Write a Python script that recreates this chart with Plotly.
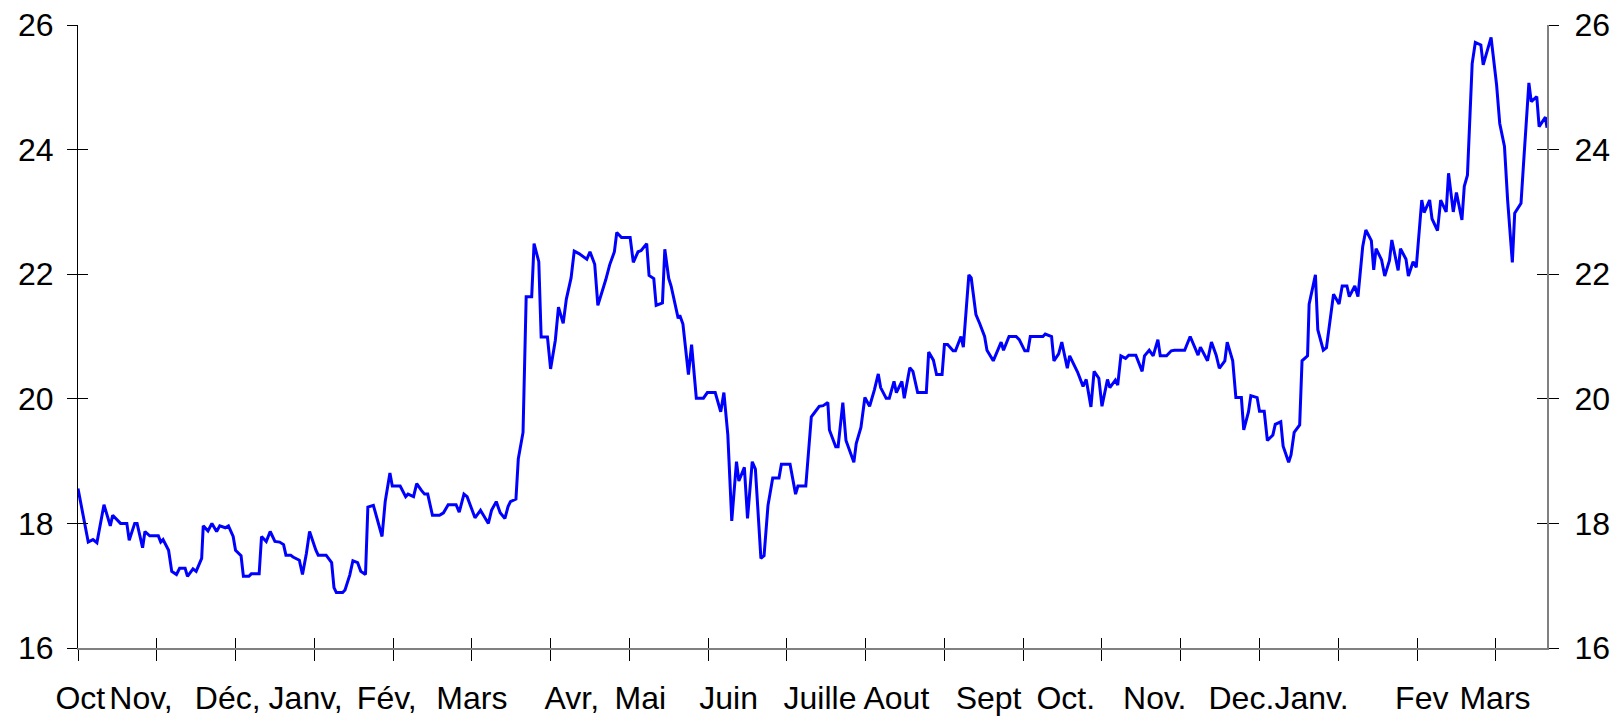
import plotly.graph_objects as go

# month index (0 = first October tick) and value of each vertex
seg1_t = [0.00, 0.13, 0.19, 0.24, 0.33, 0.41, 0.44, 0.54, 0.62, 0.65,
          0.72, 0.75, 0.82, 0.85, 0.91, 1.02, 1.05, 1.08, 1.15, 1.19,
          1.25, 1.29, 1.36, 1.39, 1.46, 1.50, 1.57, 1.59, 1.65, 1.70,
          1.76, 1.80, 1.87, 1.91, 1.97, 2.00, 2.07, 2.10, 2.17, 2.20,
          2.30, 2.33, 2.39, 2.44, 2.50, 2.56, 2.61, 2.64, 2.70, 2.73,
          2.81, 2.85, 2.90, 2.94, 3.02, 3.05, 3.15, 3.22, 3.25, 3.28,
          3.36, 3.39, 3.45, 3.49, 3.55, 3.59, 3.65, 3.68, 3.75, 3.80,
          3.86, 3.90, 3.96, 3.99, 4.09, 4.16, 4.19, 4.26, 4.30, 4.36,
          4.40, 4.44, 4.50, 4.59, 4.64, 4.70, 4.80, 4.84, 4.90, 4.94,
          5.01, 5.04, 5.11]
seg1_v = [18.56, 17.70, 17.74, 17.69, 18.30, 17.96, 18.13, 18.00, 18.00, 17.73,
          18.00, 18.00, 17.61, 17.87, 17.80, 17.80, 17.70, 17.74, 17.57, 17.23,
          17.18, 17.28, 17.28, 17.15, 17.27, 17.23, 17.44, 17.96, 17.88, 18.00,
          17.87, 17.96, 17.93, 17.96, 17.79, 17.57, 17.48, 17.15, 17.15, 17.19,
          17.19, 17.79, 17.71, 17.87, 17.71, 17.70, 17.66, 17.49, 17.49, 17.46,
          17.41, 17.18, 17.52, 17.87, 17.57, 17.49, 17.49, 17.37, 16.97, 16.89,
          16.89, 16.93, 17.17, 17.40, 17.37, 17.23, 17.18, 18.26, 18.29, 18.05,
          17.79, 18.35, 18.81, 18.60, 18.60, 18.43, 18.47, 18.43, 18.64, 18.53,
          18.47, 18.47, 18.13, 18.13, 18.17, 18.30, 18.30, 18.18, 18.47, 18.43,
          18.17, 18.09, 18.21]

seg2_t = [5.21, 5.25, 5.31, 5.36, 5.42, 5.46, 5.49, 5.56, 5.59, 5.65,
          5.69, 5.76, 5.79, 5.85, 5.88, 5.96, 6.00, 6.06, 6.10, 6.16,
          6.20, 6.26, 6.30, 6.36, 6.46, 6.50, 6.56, 6.60, 6.65, 6.70,
          6.75, 6.81, 6.84, 6.90, 7.01, 7.05, 7.11, 7.15, 7.22, 7.25,
          7.31, 7.34, 7.42, 7.45, 7.50, 7.53, 7.62, 7.64, 7.68, 7.75,
          7.79, 7.85, 7.94, 7.99, 8.09, 8.16, 8.20, 8.25, 8.30, 8.36,
          8.39, 8.46, 8.50, 8.56, 8.60, 8.67, 8.71, 8.76, 8.82, 8.90,
          8.93, 9.04, 9.11, 9.14, 9.24, 9.31, 9.34, 9.41, 9.46, 9.52,
          9.54, 9.62, 9.65, 9.71, 9.75, 9.85, 9.88, 9.94, 9.99, 10.05,
          10.11, 10.16]
seg2_v = [18.00, 18.21, 18.35, 18.17, 18.08, 18.27, 18.35, 18.39, 19.04, 19.46,
          21.64, 21.64, 22.49, 22.20, 20.99, 20.99, 20.48, 20.94, 21.47, 21.21,
          21.60, 21.94, 22.37, 22.33, 22.24, 22.36, 22.16, 21.50, 21.69, 21.91,
          22.15, 22.36, 22.67, 22.59, 22.59, 22.19, 22.36, 22.38, 22.49, 21.98,
          21.93, 21.50, 21.54, 22.40, 21.93, 21.81, 21.29, 21.34, 21.20, 20.39,
          20.87, 20.01, 20.01, 20.10, 20.10, 19.79, 20.10, 19.42, 18.04, 18.99,
          18.68, 18.90, 18.08, 18.99, 18.87, 17.44, 17.48, 18.29, 18.73, 18.73,
          18.95, 18.95, 18.47, 18.60, 18.60, 19.71, 19.76, 19.88, 19.89, 19.94,
          19.50, 19.23, 19.23, 19.94, 19.33, 18.98, 19.28, 19.54, 20.02, 19.88,
          20.14, 20.40]

seg3_t = [10.19, 10.26, 10.30, 10.36, 10.39, 10.46, 10.49, 10.56, 10.60, 10.66,
          10.77, 10.80, 10.86, 10.90, 10.97, 11.00, 11.04, 11.11, 11.14, 11.21,
          11.24, 11.31, 11.34, 11.40, 11.45, 11.51, 11.54, 11.62, 11.72, 11.75,
          11.82, 11.91, 11.95, 12.02, 12.06, 12.09, 12.25, 12.28, 12.36, 12.39,
          12.45, 12.49, 12.56, 12.59, 12.69, 12.76, 12.80, 12.86, 12.90, 12.96,
          13.00, 13.07, 13.10, 13.17, 13.20, 13.24, 13.30, 13.34, 13.43, 13.51,
          13.54, 13.60, 13.65, 13.71, 13.74, 13.82, 13.88, 13.92, 14.05, 14.12,
          14.22]
seg3_v = [20.18, 20.01, 20.01, 20.28, 20.10, 20.28, 20.01, 20.50, 20.44, 20.10,
          20.10, 20.75, 20.62, 20.39, 20.39, 20.87, 20.87, 20.77, 20.77, 21.00,
          20.83, 21.99, 21.94, 21.35, 21.20, 21.00, 20.78, 20.61, 20.91, 20.78,
          21.00, 21.00, 20.95, 20.77, 20.77, 21.00, 21.00, 21.04, 21.00, 20.61,
          20.72, 20.91, 20.49, 20.69, 20.43, 20.20, 20.31, 19.87, 20.44, 20.33,
          19.88, 20.31, 20.18, 20.30, 20.22, 20.69, 20.65, 20.70, 20.70, 20.44,
          20.69, 20.78, 20.69, 20.95, 20.69, 20.69, 20.77, 20.78, 20.78, 21.00,
          20.70]

seg4_t = [14.25, 14.34, 14.39, 14.45, 14.49, 14.56, 14.59, 14.66, 14.70, 14.77,
          14.80, 14.86, 14.89, 14.97, 15.00, 15.06, 15.10, 15.17, 15.20, 15.27,
          15.30, 15.37, 15.40, 15.44, 15.51, 15.54, 15.61, 15.63, 15.71, 15.74,
          15.81, 15.85, 15.94, 16.01, 16.05, 16.11, 16.14, 16.21, 16.25, 16.31,
          16.35, 16.42, 16.45, 16.48, 16.55, 16.59, 16.65, 16.68, 16.76, 16.79,
          16.86, 16.89, 16.95, 16.99, 17.06, 17.09, 17.16, 17.19, 17.26, 17.30,
          17.37, 17.40, 17.46, 17.50, 17.57, 17.60, 17.64, 17.70, 17.74, 17.81,
          17.84, 17.94, 18.01, 18.05, 18.11, 18.15, 18.21, 18.24, 18.32, 18.35,
          18.42, 18.45, 18.52, 18.55, 18.63, 18.65]
seg4_v = [20.83, 20.61, 20.91, 20.70, 20.49, 20.61, 20.91, 20.61, 20.02, 20.02,
          19.50, 19.79, 20.05, 20.02, 19.80, 19.80, 19.33, 19.42, 19.59, 19.63,
          19.24, 18.98, 19.10, 19.46, 19.58, 20.61, 20.69, 21.52, 21.99, 21.11,
          20.78, 20.82, 21.68, 21.52, 21.81, 21.81, 21.64, 21.81, 21.64, 22.44,
          22.71, 22.54, 22.07, 22.41, 22.23, 21.97, 22.22, 22.55, 22.06, 22.41,
          22.24, 21.97, 22.20, 22.11, 23.19, 22.99, 23.19, 22.89, 22.70, 23.19,
          23.00, 23.62, 23.00, 23.31, 22.87, 23.41, 23.59, 25.38, 25.72, 25.68,
          25.36, 25.80, 25.04, 24.42, 24.05, 23.19, 22.19, 22.98, 23.14, 23.73,
          25.07, 24.77, 24.85, 24.37, 24.52, 24.35]

month_ticks = list(range(19))
month_labels = ["Oct", "Nov,", "Déc,", "Janv,", "Fév,", "Mars", "Avr,", "Mai", "Juin",
                "Juille", "Aout", "Sept", "Oct.", "Nov.", "Dec.", "Janv.", "Fev", "Mars"]
label_pos = [0.03, 0.80, 1.90, 2.89, 3.92, 5.00, 6.27, 7.14, 8.26,
             9.42, 10.39, 11.56, 12.54, 13.67, 14.77, 15.66, 17.06, 17.99]
y_ticks = [16, 18, 20, 22, 24, 26]

x_range = [0, 18.65]
y_range = [16, 26]

t = seg1_t + seg2_t + seg3_t + seg4_t
v = seg1_v + seg2_v + seg3_v + seg4_v

label_font = dict(family="Liberation Sans, Arial", size=32, color="black")
num_font = dict(family="Liberation Sans, Arial", size=32, color="black")

fig = go.Figure()
fig.add_trace(
    go.Scatter(x=t, y=v, mode="lines", line=dict(color="#0000FF", width=3),
               hoverinfo="skip", showlegend=False)
)
# empty traces so the overlay axes get drawn
for xa, ya in [("x2", "y"), ("x3", "y"), ("x", "y2"), ("x", "y3"), ("x", "y4")]:
    fig.add_trace(go.Scatter(x=[None], y=[None], xaxis=xa, yaxis=ya,
                             showlegend=False, hoverinfo="skip"))

common_x = dict(range=x_range, showgrid=False, zeroline=False, automargin=False)
common_y = dict(range=y_range, showgrid=False, zeroline=False, tickvals=y_ticks,
                automargin=False)

fig.update_layout(
    width=1623,
    height=718,
    margin=dict(l=78, r=76, t=25, b=70),
    plot_bgcolor="white",
    paper_bgcolor="white",
    showlegend=False,
    xaxis=dict(**common_x, tickvals=month_ticks, ticks="outside", ticklen=11,
               tickcolor="black", tickwidth=1, showticklabels=False,
               showline=True, linecolor="#808080", linewidth=2),
    xaxis3=dict(**common_x, overlaying="x", anchor="y", tickvals=month_ticks,
                ticks="inside", ticklen=10, tickcolor="black", tickwidth=1,
                showticklabels=False, showline=False),
    xaxis2=dict(**common_x, overlaying="x", anchor="y", side="bottom",
                tickvals=label_pos, ticktext=month_labels, ticks="", tickangle=0,
                showline=False, tickfont=label_font, ticklabelstandoff=28),
    yaxis=dict(**common_y, ticks="outside", ticklen=10, tickcolor="black",
               showline=True, linecolor="black", linewidth=1, tickfont=num_font,
               ticklabelstandoff=7),
    yaxis2=dict(**common_y, overlaying="y", side="right", anchor="x",
                ticks="outside", ticklen=10, tickcolor="black", showline=True,
                linecolor="#808080", linewidth=2, tickfont=num_font,
                ticklabelstandoff=9),
    yaxis3=dict(**common_y, overlaying="y", side="left", anchor="x",
                ticks="inside", ticklen=10, tickcolor="black",
                showticklabels=False, showline=False),
    yaxis4=dict(**common_y, overlaying="y", side="right", anchor="x",
                ticks="inside", ticklen=10, tickcolor="black",
                showticklabels=False, showline=False),
)

fig.write_html("out.html", config={"displayModeBar": False},
               post_script="document.body.style.margin = '0';")
